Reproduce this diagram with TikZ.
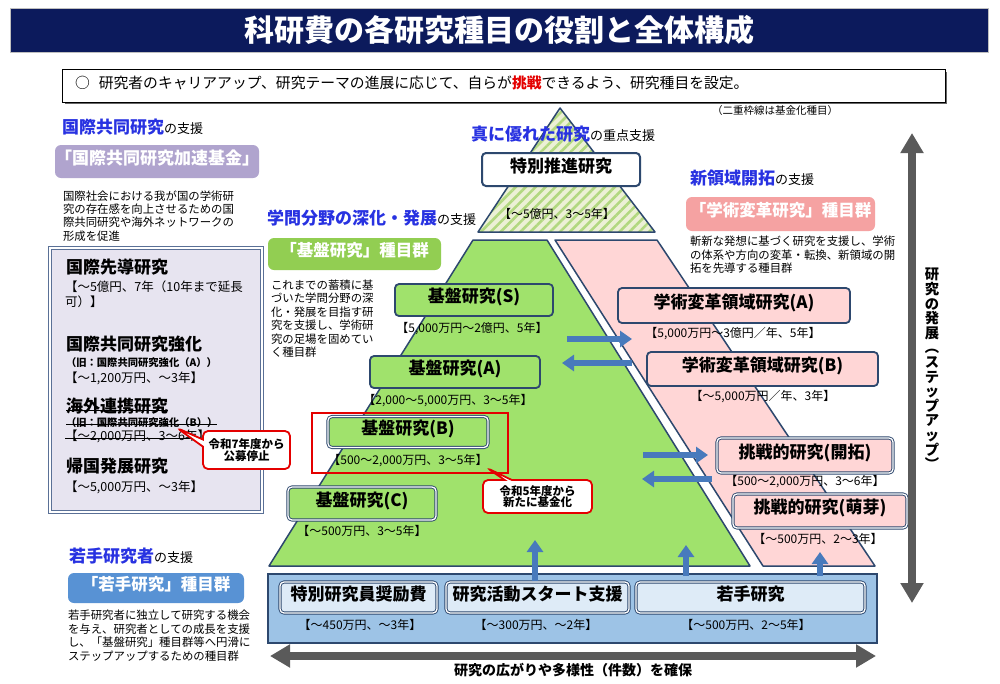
\documentclass[tikz,border=0pt]{standalone}
\usepackage{fontspec}
\usepackage{graphicx}
\setmainfont{Noto Sans CJK JP}
\usetikzlibrary{patterns.meta,arrows.meta,shapes.callouts,calc}
\definecolor{navy}{RGB}{12,26,92}
\definecolor{hblue}{RGB}{40,50,225}
\definecolor{bord}{RGB}{45,72,110}
\definecolor{grn}{RGB}{160,226,108}
\definecolor{grnlab}{RGB}{146,206,82}
\definecolor{pnk}{RGB}{255,214,214}
\definecolor{pnklab}{RGB}{245,162,162}
\definecolor{purlab}{RGB}{176,164,206}
\definecolor{lav}{RGB}{231,228,240}
\definecolor{lavbord}{RGB}{90,112,150}
\definecolor{bluelab}{RGB}{88,146,212}
\definecolor{blubox}{RGB}{157,195,230}
\definecolor{bluin}{RGB}{222,235,247}
\definecolor{arrblue}{RGB}{72,122,188}
\definecolor{agray}{RGB}{90,90,90}
\definecolor{hatchbg}{RGB}{236,240,214}
\definecolor{hatchln}{RGB}{178,216,128}
\definecolor{cred}{RGB}{228,0,0}
\newcommand\fsz[1]{\fontsize{#1}{#1}\selectfont}
\tikzset{
  txt/.style={inner sep=0pt, outer sep=0pt, text height=0.76em, text depth=0.24em},
  fund/.style={txt, font=\fsz{12}},
  desc/.style={txt, font=\fsz{11.4}, anchor=west},
  head/.style={txt, font=\fsz{17}, anchor=west},
  lbl/.style={rounded corners=6pt, text=white, font=\bfseries\fsz{16.5}, inner sep=0pt, text height=0.76em, text depth=0.24em},
  bx/.style={draw=bord, line width=1.8pt, rounded corners=4pt, font=\bfseries\fsz{17}, inner sep=0pt, text height=0.76em, text depth=0.24em},
  dbx/.style={draw=bord, double=white, double distance=1.3pt, line width=0.9pt, rounded corners=4pt, font=\bfseries\fsz{17}, inner sep=0pt, text height=0.76em, text depth=0.24em},
  barr/.style={arrblue, line width=6pt, -{Triangle[width=16pt,length=12pt]}},
  garr/.style={agray, line width=8pt, {Triangle[width=22pt,length=20pt]}-{Triangle[width=22pt,length=20pt]}},
  callbox/.style={rectangle callout, draw=cred, line width=1.8pt, fill=white, rounded corners=5pt, font=\bfseries\fsz{11.5}, align=center, inner sep=0pt},
  strike/.style={black, line width=1pt},
}
\begin{document}
\begin{tikzpicture}[x=1pt,y=-1pt]
\useasboundingbox (0,0) rectangle (1000,683);
\fill[white] (0,0) rectangle (1000,683);

% title
\node[fill=navy, draw=gray!50, line width=0.8pt, minimum width=978pt, minimum height=44pt, inner sep=0pt, text=white, font=\bfseries\fsz{30}] (title) at (499,30) {科研費の各研究種目の役割と全体構成};

% subtitle
\fill[black!60] (65,72) rectangle (947,104);
\node[draw=black, line width=1pt, fill=white, minimum width=883pt, minimum height=33pt, inner sep=0pt] (subbox) at (503.5,85.5) {};
\node[txt, font=\fsz{14.8}, anchor=west] (subtxt) at (75,86) {○\hspace{9pt}研究者のキャリアアップ、研究テーマの進展に応じて、自らが{\color{cred}\bfseries 挑戦}できるよう、研究種目を設定。};
\node[txt, font=\fsz{10.5}] (note) at (775,112) {（二重枠線は基金化種目）};

% ---------- pyramid shapes ----------
\fill[hatchbg] (560,108) -- (655,232) -- (478,232) -- cycle;
\fill[pattern={Lines[angle=45,distance=7pt,line width=2.6pt]}, pattern color=hatchln] (560,108) -- (655,232) -- (478,232) -- cycle;
\draw[bord, line width=1.5pt, line join=round] (560,108) -- (655,232) -- (478,232) -- cycle;
\draw[bord, line width=1.5pt, fill=grn, line join=round] (473,240) -- (547,240) -- (750,566) -- (269,566) -- cycle;
\draw[bord, line width=1.5pt, fill=pnk, line join=round] (555,240) -- (657,240) -- (875,566) -- (763,566) -- cycle;

% ---------- left column ----------
\node[head] (h1) at (62,131) {{\color{hblue}\bfseries 国際共同研究}{\fsz{13}の支援}};
\node[lbl, fill=purlab, minimum width=200pt, minimum height=33pt, font=\bfseries\fsz{17}] (pl) at (157,161.5) {「国際共同研究加速基金」};
\foreach \t [count=\i] in {国際社会における我が国の学術研,究の存在感を向上させるための国,際共同研究や海外ネットワークの,形成を促進}
  \node[desc] (d1-\i) at (63,{197.5+13.4*(\i-1)}) {\t};

\node[draw=lavbord, double=white, double distance=1.2pt, line width=1.1pt, fill=lav, minimum width=212pt, minimum height=264pt, inner sep=0pt] (ibox) at (156,380) {};
\node[txt, font=\bfseries\fsz{17}, anchor=west] (k1) at (66,271) {国際先導研究};
\node[txt, font=\fsz{12.5}, anchor=west] (k1f) at (65,289) {【～5億円、7年（10年まで延長};
\node[txt, font=\fsz{12.5}, anchor=west] (k1g) at (65,304) {可）】};
\node[txt, font=\bfseries\fsz{17}, anchor=west] (k2) at (66,348) {国際共同研究強化};
\node[txt, font=\bfseries\fsz{10.3}, anchor=west] (k2o) at (66,364) {（旧：国際共同研究強化（A））};
\node[txt, font=\fsz{12.5}, anchor=west] (k2f) at (65,380) {【～1,200万円、～3年】};
\node[txt, font=\bfseries\fsz{17}, anchor=west] (k3) at (66,410) {海外連携研究};
\node[txt, font=\bfseries\fsz{10.3}, anchor=west] (k3o) at (66,424) {（旧：国際共同研究強化（B））};
\node[txt, font=\fsz{12.5}, anchor=west] (k3f) at (65,438) {【～2,000万円、3～6年】};
\draw[strike] (k3.west) -- (k3.east);
\draw[strike] (k3o.west) -- (k3o.east);
\draw[strike] (k3f.west) -- (k3f.east);
\node[txt, font=\bfseries\fsz{17}, anchor=west] (k4) at (66,470) {帰国発展研究};
\node[txt, font=\fsz{12.5}, anchor=west] (k4f) at (65,489) {【～5,000万円、～3年】};

\node[callbox, minimum width=87pt, minimum height=38pt, callout absolute pointer={(177,428)}] (c7) at (246.5,450) {令和7年度から\\公募停止};

\node[head] (h5) at (69,560) {{\color{hblue}\bfseries 若手研究者}{\fsz{13}の支援}};
\node[lbl, fill=bluelab, minimum width=176pt, minimum height=30pt] (bl) at (156,588) {「若手研究」種目群};
\foreach \t [count=\i] in {若手研究者に独立して研究する機会,を与え、研究者としての成長を支援,し、「基盤研究」種目群等へ円滑に,ステップアップするための種目群}
  \node[desc] (d5-\i) at (68,{617+13.6*(\i-1)}) {\t};

% ---------- pyramid top ----------
\node[head] (h2) at (471,138) {{\color{hblue}\bfseries 真に優れた研究}{\fsz{13}の重点支援}};
\node[bx, line width=2pt, fill=white, minimum width=158pt, minimum height=33pt] (tok) at (561,169.5) {特別推進研究};
\node[fund] (tokf) at (557,216) {【～5億円、3～5年】};

% ---------- kiban ----------
\node[head] (h3) at (267,222) {{\color{hblue}\bfseries 学問分野の深化・発展}{\fsz{13}の支援}};
\node[lbl, fill=grnlab, minimum width=173pt, minimum height=32pt] (gl) at (354.5,254) {「基盤研究」種目群};
\foreach \t [count=\i] in {これまでの蓄積に基,づいた学問分野の深,化・発展を目指す研,究を支援し、学術研,究の足場を固めてい,く種目群}
  \node[desc] (d3-\i) at (271,{286.5+13.5*(\i-1)}) {\t};

\node[bx, fill=grn, minimum width=158pt, minimum height=32pt] (ks) at (474,300) {基盤研究(S)};
\node[fund] (ksf) at (472,330) {【5,000万円～2億円、5年】};
\node[bx, fill=grn, minimum width=170pt, minimum height=32pt] (ka) at (455,372) {基盤研究(A)};
\node[fund] (kaf) at (448,402) {【2,000～5,000万円、3～5年】};
\node[dbx, fill=grn, minimum width=160pt, minimum height=31pt] (kb) at (408,432) {基盤研究(B)};
\node[fund] (kbf) at (408,462) {【500～2,000万円、3～5年】};
\node[draw=cred, line width=1.8pt, minimum width=196pt, minimum height=60pt, inner sep=0pt] (redr) at (410,443) {};
\node[callbox, minimum width=109pt, minimum height=33pt, callout absolute pointer={(487,468)}] (c5) at (537.5,496.5) {令和5年度から\\新たに基金化};
\node[dbx, fill=grn, minimum width=148pt, minimum height=33pt] (kc) at (362,503.5) {基盤研究(C)};
\node[fund] (kcf) at (362,533) {【～500万円、3～5年】};

% ---------- right column ----------
\node[head] (h4) at (690,182) {{\color{hblue}\bfseries 新領域開拓}{\fsz{13}の支援}};
\node[lbl, fill=pnklab, minimum width=189pt, minimum height=34pt] (prl) at (780.5,214) {「学術変革研究」種目群};
\foreach \t [count=\i] in {斬新な発想に基づく研究を支援し、学術,の体系や方向の変革・転換、新領域の開,拓を先導する種目群}
  \node[desc] (d4-\i) at (690,{243+13.6*(\i-1)}) {\t};

\node[bx, fill=pnk, minimum width=232pt, minimum height=35pt] (ha) at (734,305.5) {学術変革領域研究(A)};
\node[fund] (haf) at (733,335) {【5,000万円～3億円／年、5年】};
\node[bx, fill=pnk, minimum width=231pt, minimum height=34pt] (hb) at (762.5,369) {学術変革領域研究(B)};
\node[fund] (hbf) at (763,398) {【～5,000万円／年、3年】};
\node[dbx, fill=pnk, minimum width=176pt, minimum height=35pt] (kt) at (805,455.5) {挑戦的研究(開拓)};
\node[fund] (ktf) at (805,483) {【500～2,000万円、3～6年】};
\node[dbx, fill=pnk, minimum width=174pt, minimum height=34pt] (hg) at (820,511) {挑戦的研究(萌芽)};
\node[fund] (hgf) at (818,541) {【～500万円、2～3年】};

% horizontal arrows
\coordinate (r1a) at (567,339); \coordinate (r1b) at (632,339);
\coordinate (l1a) at (632,363); \coordinate (l1b) at (562,363);
\coordinate (r2a) at (643,455); \coordinate (r2b) at (708,455);
\coordinate (l2a) at (712,479); \coordinate (l2b) at (642,479);
\draw[barr] (r1a) -- (r1b);
\draw[barr] (l1a) -- (l1b);
\draw[barr] (r2a) -- (r2b);
\draw[barr] (l2a) -- (l2b);

% ---------- bottom ----------
\node[draw=bord, line width=1.5pt, fill=blubox, minimum width=609pt, minimum height=69pt, inner sep=0pt] (blue) at (572.5,608.5) {};
\node[dbx, fill=bluin, minimum width=157pt, minimum height=31pt] (b1) at (358.5,597.5) {特別研究員奨励費};
\node[dbx, fill=bluin, minimum width=183pt, minimum height=31pt] (b2) at (537.5,597.5) {研究活動スタート支援};
\node[dbx, fill=bluin, minimum width=229pt, minimum height=31pt] (b3) at (750.5,597.5) {若手研究};
\node[fund] (b1f) at (360,627) {【～450万円、～3年】};
\node[fund] (b2f) at (536,627) {【～300万円、～2年】};
\node[fund] (b3f) at (746,627) {【～500万円、2～5年】};

\coordinate (u1a) at (535,581); \coordinate (u1b) at (535,540);
\coordinate (u2a) at (686,576); \coordinate (u2b) at (686,545);
\coordinate (u3a) at (820,576); \coordinate (u3b) at (820,552);
\draw[barr] (u1a) -- (u1b);
\draw[barr] (u2a) -- (u2b);
\draw[barr] (u3a) -- (u3b);

\coordinate (hl) at (270,656); \coordinate (hr) at (876,656);
\draw[garr] (hl) -- (hr);
\node[txt, font=\bfseries\fsz{14}] (htxt) at (573,673) {研究の広がりや多様性（件数）を確保};

\coordinate (vt) at (912,133); \coordinate (vb) at (912,603);
\draw[garr] (vt) -- (vb);
\node[inner sep=0pt, align=center, font=\bfseries\fontsize{14.3}{14.6}\selectfont] (vtxt) at (932,369) {研\\究\\の\\発\\展\\︵\\ス\\テ\\ッ\\プ\\ア\\ッ\\プ\\︶};
\end{tikzpicture}
\end{document}
